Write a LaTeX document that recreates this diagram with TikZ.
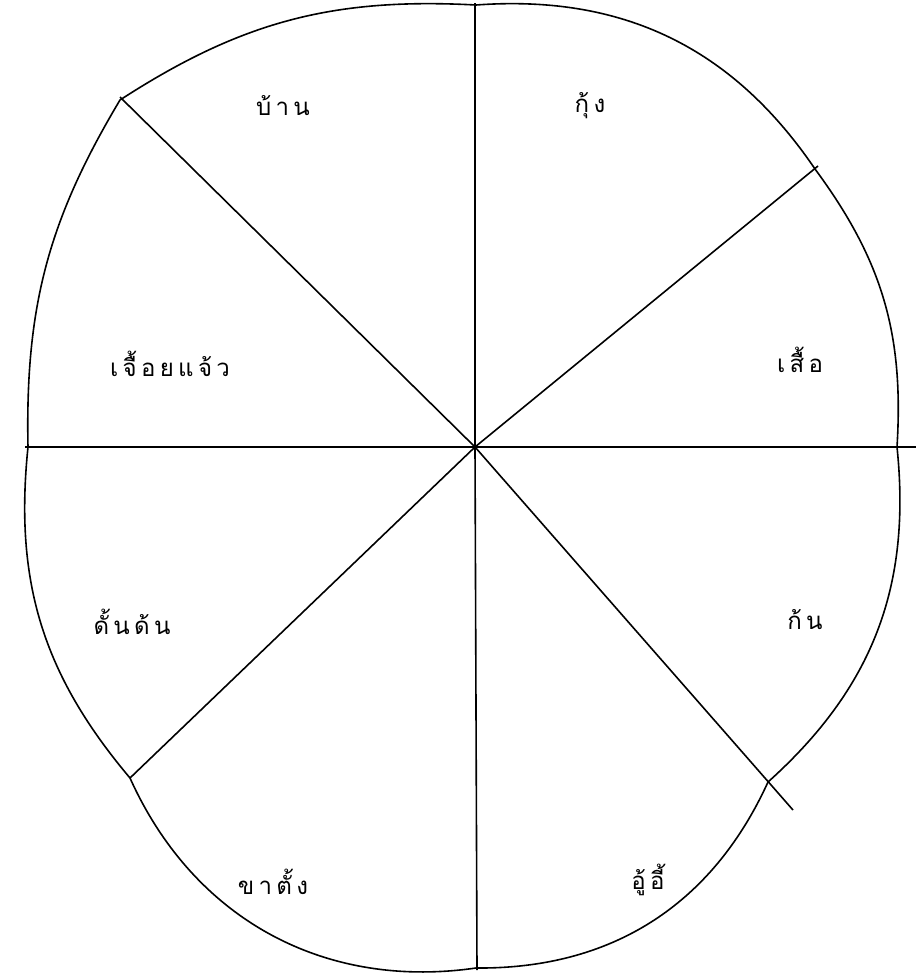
\documentclass[tikz,border=0pt]{standalone}
\usepackage{fontspec}
\newfontfamily\thaifont[Script=Thai,LetterSpace=18]{Loma}
\begin{document}
\begin{tikzpicture}[x=1pt,y=-1pt,
  edge/.style={line width=1.6pt,black},
  lab/.style={font=\thaifont\fontsize{24}{28}\selectfont, inner sep=0pt}]
\useasboundingbox[fill=white] (0,0) rectangle (918,975);
% centre and radial ends
\coordinate (C) at (475,447);
\coordinate (eT) at (475,3);
\coordinate (eB) at (477,970);
\coordinate (eL) at (25,447);
\coordinate (eR) at (916,447);
\coordinate (eUL) at (120,97);
\coordinate (eUR) at (818,166);
\coordinate (eLR) at (793,810);
\coordinate (eLL) at (130,778);
% outline vertices
\coordinate (o1) at (120,100);
\coordinate (o2) at (476,5);
\coordinate (o3) at (815,169);
\coordinate (o4) at (897,447);
\coordinate (o5) at (768,782);
\coordinate (o6) at (476,968);
\coordinate (o7) at (130,778);
\coordinate (o8) at (28,447);
% radial lines
\foreach \e in {eT,eB,eL,eR,eUL,eUR,eLR,eLL} \draw[edge] (C) -- (\e);
% outline
\draw[edge] (o1) to[bend left=18] (o2)
  to[bend left=30] (o3)
  to[bend left=20] (o4)
  to[bend left=27] (o5)
  to[bend left=33] (o6)
  to[bend left=37] (o7)
  to[bend left=23] (o8)
  to[bend left=16] (o1);
% labels
\node[lab] (w1) at (283,106) {บ้าน};
\node[lab] (w2) at (590,106) {กุ้ง};
\node[lab] (w3) at (800,360) {เสื้อ};
\node[lab] (w4) at (805,620) {ก้น};
\node[lab] (w5) at (648,880) {อู้อี้};
\node[lab] (w6) at (273,882) {ขาตั้ง};
\node[lab] (w7) at (132,622) {ดั้นด้น};
\node[lab] (w8) at (170,364) {เจื้อยแจ้ว};
\end{tikzpicture}
\end{document}
